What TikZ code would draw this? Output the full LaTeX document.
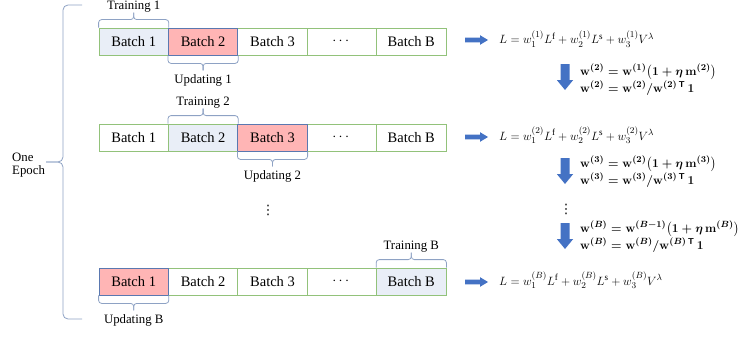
\documentclass[tikz,border=0pt]{standalone}
\usepackage{amsmath,amssymb}
\usepackage{fontspec}
\setmainfont{Liberation Serif}
\newfontfamily\symfont{DejaVu Sans}
\usetikzlibrary{calc}

\definecolor{boxgreen}{HTML}{92C27A}
\definecolor{boxblue}{HTML}{5A78B0}
\definecolor{trainfill}{HTML}{E9EEF7}
\definecolor{updfill}{HTML}{FFB5B5}
\definecolor{brcol}{HTML}{8EA2C4}
\definecolor{arrblue}{HTML}{4472C4}

% bracket above a box, tip pointing up; #3 names the tip
\newcommand\bracketup[3]{%
  \coordinate (#3) at ($(#1)!0.5!(#2)+(0,-15)$);
  \draw[brc] (#1) -- ++(0,-8) -| (#3);
  \draw[brc] (#2) -- ++(0,-8) -| (#3);
}
% bracket below a box, tip pointing down
\newcommand\bracketdown[3]{%
  \coordinate (#3) at ($(#1)!0.5!(#2)+(0,15)$);
  \draw[brc] (#1) -- ++(0,8) -| (#3);
  \draw[brc] (#2) -- ++(0,8) -| (#3);
}
\newcommand\losseq[1]{$L = w_1^{(#1)}L^{\mathrm{f}} + w_2^{(#1)}L^{\mathrm{s}} + w_3^{(#1)}V^{\lambda}$}

\begin{document}
\begin{tikzpicture}[x=1pt,y=-1pt,
  batch/.style={draw=boxgreen, line width=0.8pt, fill=white,
    minimum width=69.4pt, minimum height=27pt, inner sep=0pt,
    font=\fontsize{14.5}{16}\selectfont},
  trainbox/.style={batch, fill=trainfill},
  updbox/.style={batch, fill=updfill, draw=boxblue},
  brc/.style={draw=brcol, line width=0.8pt, rounded corners=3pt},
  lbl/.style={font=\fontsize{12.8}{15}\selectfont, inner sep=0pt},
  eqn/.style={font=\fontsize{13}{15}\selectfont, inner sep=0pt},
  beqn/.style={font=\fontsize{12.2}{14}\selectfont\boldmath, inner sep=0pt},
  vdot/.style={font=\symfont\fontsize{13}{14}\selectfont, inner sep=0pt},
  rarrow/.pic={\fill[arrblue] (0,-2.3) -- (15,-2.3) -- (15,-4.8) -- (23,0)
      -- (15,4.8) -- (15,2.3) -- (0,2.3) -- cycle;},
  darrow/.pic={\fill[arrblue] (-4.5,0) -- (4.5,0) -- (4.5,16) -- (8.2,16)
      -- (0,26) -- (-8.2,16) -- (-4.5,16) -- cycle;},
]
\useasboundingbox (0,0) rectangle (738,337);

% ---- row 1: train on batch 1, update on batch 2
\node[trainbox] (b11) at (133.7,41.5) {Batch 1};
\node[batch]    (b13) at (272.5,41.5) {Batch 3};
\node[batch]    (b14) at (341.9,41.5) {$\cdots$};
\node[batch]    (b15) at (411.3,41.5) {Batch B};
\node[updbox]   (b12) at (203.1,41.5) {Batch 2};

% ---- row 2: train on batch 2, update on batch 3
\node[batch]    (b21) at (133.7,137.5) {Batch 1};
\node[trainbox] (b22) at (203.1,137.5) {Batch 2};
\node[batch]    (b24) at (341.9,137.5) {$\cdots$};
\node[batch]    (b25) at (411.3,137.5) {Batch B};
\node[updbox]   (b23) at (272.5,137.5) {Batch 3};

% ---- row B: train on batch B, update on batch 1
\node[batch]    (b32) at (203.1,281.5) {Batch 2};
\node[batch]    (b33) at (272.5,281.5) {Batch 3};
\node[batch]    (b34) at (341.9,281.5) {$\cdots$};
\node[trainbox] (b35) at (411.3,281.5) {Batch B};
\node[updbox]   (b31) at (133.7,281.5) {Batch 1};

\node[vdot] (vd) at (268,210) {⋮};

% ---- brackets and their labels
\bracketup{b11.north west}{b11.north east}{t1}
\node[lbl, anchor=base] (t1l) at ($(t1)+(0,-3.5)$) {Training 1};
\bracketdown{b12.south west}{b12.south east}{u1}
\node[lbl, anchor=base] (u1l) at ($(u1)+(0,13.5)$) {Updating 1};

\bracketup{b22.north west}{b22.north east}{t2}
\node[lbl, anchor=base] (t2l) at ($(t2)+(0,-3.5)$) {Training 2};
\bracketdown{b23.south west}{b23.south east}{u2}
\node[lbl, anchor=base] (u2l) at ($(u2)+(0,13.5)$) {Updating 2};

\bracketup{b35.north west}{b35.north east}{tB}
\node[lbl, anchor=base] (tBl) at ($(tB)+(0,-3.5)$) {Training B};
\bracketdown{b31.south west}{b31.south east}{uB}
\node[lbl, anchor=base] (uBl) at ($(uB)+(0,13.5)$) {Updating B};

% ---- epoch brace
\coordinate (ep) at (46,162);
\draw[brc, rounded corners=5pt] (82,5) -- (63,5) -- (63,162) -- (ep);
\draw[brc, rounded corners=5pt] (ep) -- (63,162) -- (63,319) -- (82,319);
\node[anchor=west, align=left, inner sep=0pt, font=\fontsize{12.8}{13.5}\selectfont] (epl) at (12,165) {One\\Epoch};

% ---- loss of each step
\pic (r1) at (465,40) {rarrow};
\node[eqn, anchor=base west] (L1) at (499,44) {\losseq{1}};
\pic (r2) at (465,137) {rarrow};
\node[eqn, anchor=base west] (L2) at (499,140) {\losseq{2}};
\pic (r3) at (465,282) {rarrow};
\node[eqn, anchor=base west] (L3) at (499,285) {\losseq{B}};

% ---- weight updates
\pic (d1) at (565,64) {darrow};
\node[beqn, anchor=base west] (w1a) at (580,75)
  {$\mathbf{w}^{(2)} = \mathbf{w}^{(1)}\bigl(1+\eta\,\mathbf{m}^{(2)}\bigr)$};
\node[beqn, anchor=base west] (w1b) at (580,92)
  {$\mathbf{w}^{(2)} = \mathbf{w}^{(2)}/\mathbf{w}^{(2)\,\mathsf{T}}\,\mathbf{1}$};

\pic (d2) at (565,158) {darrow};
\node[beqn, anchor=base west] (w2a) at (580,167)
  {$\mathbf{w}^{(3)} = \mathbf{w}^{(2)}\bigl(1+\eta\,\mathbf{m}^{(3)}\bigr)$};
\node[beqn, anchor=base west] (w2b) at (580,184)
  {$\mathbf{w}^{(3)} = \mathbf{w}^{(3)}/\mathbf{w}^{(3)\,\mathsf{T}}\,\mathbf{1}$};

\node[vdot] (vd2) at (566,209) {⋮};

\node[beqn, anchor=base west] (w3a) at (580,232)
  {$\mathbf{w}^{(B)} = \mathbf{w}^{(B-1)}\bigl(1+\eta\,\mathbf{m}^{(B)}\bigr)$};
\node[beqn, anchor=base west] (w3b) at (580,249)
  {$\mathbf{w}^{(B)} = \mathbf{w}^{(B)}/\mathbf{w}^{(B)\,\mathsf{T}}\,\mathbf{1}$};
\pic (d3) at (565,223) {darrow};
\end{tikzpicture}
\end{document}
